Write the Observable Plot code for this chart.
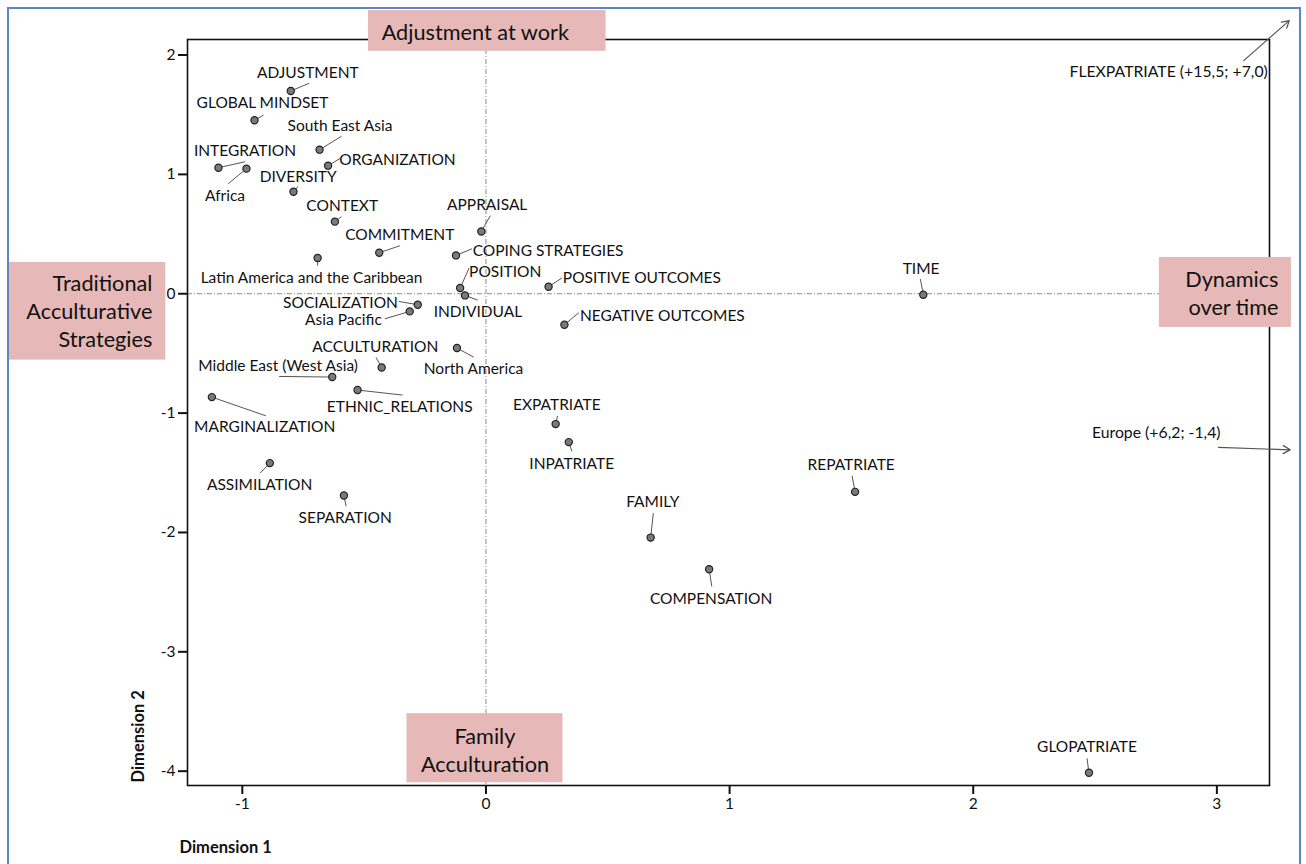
<!DOCTYPE html>
<html>
<head>
<meta charset="utf-8">
<script src="https://cdn.jsdelivr.net/npm/d3@7"></script>
<script src="https://cdn.jsdelivr.net/npm/@observablehq/plot@0.6"></script>
<style>
  html, body { margin: 0; padding: 0; background: #fff; }
  #wrap { position: relative; width: 1306px; height: 864px; overflow: hidden; }
  #border { position: absolute; left: 7px; top: 7px; width: 1290px; height: 900px;
            border: 2px solid #5b87c4; pointer-events: none; }
</style>
</head>
<body>
<div id="wrap"><div id="chart"></div><div id="border"></div></div>
<script>
// ---- Data ----
const names = ["ADJUSTMENT","GLOBAL MINDSET","South East Asia","INTEGRATION","Africa","ORGANIZATION",
  "DIVERSITY","CONTEXT","APPRAISAL","COMMITMENT","COPING STRATEGIES","Latin America and the Caribbean",
  "POSITION","POSITIVE OUTCOMES","INDIVIDUAL","NEGATIVE OUTCOMES","TIME","SOCIALIZATION","Asia Pacific",
  "ACCULTURATION","North America","Middle East (West Asia)","ETHNIC_RELATIONS","MARGINALIZATION",
  "EXPATRIATE","INPATRIATE","ASSIMILATION","SEPARATION","REPATRIATE","FAMILY","COMPENSATION","GLOPATRIATE"];
const dim1 = [-0.801,-0.950,-0.683,-1.098,-0.983,-0.648,-0.790,-0.620,-0.019,-0.438,-0.123,-0.691,
  -0.106,0.257,-0.086,0.322,1.795,-0.280,-0.313,-0.428,-0.119,-0.631,-0.527,-1.125,
  0.286,0.340,-0.887,-0.583,1.515,0.676,0.916,2.475];
const dim2 = [1.699,1.453,1.207,1.056,1.048,1.073,0.855,0.604,0.522,0.344,0.321,0.299,
  0.048,0.059,-0.014,-0.260,-0.008,-0.092,-0.148,-0.618,-0.455,-0.698,-0.807,-0.866,
  -1.092,-1.243,-1.419,-1.691,-1.660,-2.043,-2.308,-4.013];
// label centre positions (in dimension units)
const labelDim1 = [-0.731,-0.917,-0.599,-0.989,-1.071,-0.363,-0.771,-0.590,0.005,-0.354,0.255,-0.716,
  0.079,0.640,-0.033,0.724,1.786,-0.597,-0.585,-0.454,-0.051,-0.853,-0.354,-0.908,
  0.291,0.352,-0.929,-0.578,1.499,0.685,0.924,2.467];
const labelDim2 = [1.852,1.601,1.406,1.196,0.821,1.117,0.975,0.733,0.742,0.490,0.358,0.132,
  0.183,0.134,-0.152,-0.187,0.207,-0.075,-0.224,-0.447,-0.631,-0.604,-0.953,-1.117,
  -0.935,-1.425,-1.605,-1.878,-1.433,-1.746,-2.555,-3.800];
// leader line ends (in dimension units)
const leaderDim1 = [-0.726,-0.913,-0.593,-0.988,-1.058,-0.598,-0.771,-0.593,0.018,-0.353,-0.057,-0.691,
  -0.069,0.312,-0.034,0.381,1.783,-0.357,-0.415,-0.451,-0.051,-0.849,-0.342,-0.903,
  0.294,0.353,-0.927,-0.574,1.503,0.687,0.927,2.467];
const leaderDim2 = [1.763,1.497,1.319,1.106,0.922,1.134,0.899,0.645,0.654,0.402,0.377,0.235,
  0.215,0.132,-0.053,-0.159,0.123,-0.065,-0.210,-0.534,-0.531,-0.693,-0.849,-1.023,
  -1.023,-1.322,-1.503,-1.780,-1.526,-1.838,-2.453,-3.892];

// off-scale points shown as arrows
const outNames = ["FLEXPATRIATE (+15,5; +7,0)", "Europe (+6,2; -1,4)"];
const outFrom1 = [3.110, 3.007];
const outFrom2 = [1.953, -1.288];
const outTo1 = [3.297, 3.301];
const outTo2 = [2.288, -1.308];
const outLabel1 = [3.209, 2.487];
const outLabel2 = [1.855, -1.169];
const outAnchor = ["end", "start"];

// quadrant annotation boxes
const boxTexts = ["Adjustment at work", "Traditional\nAcculturative\nStrategies", "Dynamics\nover time", "Family\nAcculturation"];
const boxX1 = [-0.482, -1.958, 2.764, -0.324];
const boxX2 = [0.493, -1.314, 3.306, 0.316];
const boxY1 = [2.372, 0.262, 0.304, -3.518];
const boxY2 = [2.031, -0.556, -0.282, -4.097];
const boxTextX = [-0.428, -1.369, 3.253, -0.004];
const boxTextY = [2.204, -0.135, 0.015, -3.814];
const boxAnchor = ["start", "end", "end", "middle"];

const xTicks = [-1, 0, 1, 2, 3];
const yTicks = [-4, -3, -2, -1, 0, 1, 2];

// ---- Tables ----
const pts = names.map((n, i) => ({name: n, d1: dim1[i], d2: dim2[i], lx: labelDim1[i], ly: labelDim2[i], ex: leaderDim1[i], ey: leaderDim2[i]}));
const outs = outNames.map((n, i) => ({name: n, x1: outFrom1[i], y1: outFrom2[i], x2: outTo1[i], y2: outTo2[i], lx: outLabel1[i], ly: outLabel2[i], anchor: outAnchor[i]}));
const boxes = boxTexts.map((t, i) => ({text: t, x1: boxX1[i], x2: boxX2[i], y1: boxY1[i], y2: boxY2[i], tx: boxTextX[i], ty: boxTextY[i], anchor: boxAnchor[i]}));

const FONT = "Lato, 'Open Sans', sans-serif";
const dash = "5,2,1,2";
const INK = "#111";

const boxText = (anchor) => Plot.text(boxes.filter(d => d.anchor === anchor),
  {x: "tx", y: "ty", text: "text", textAnchor: anchor, fontSize: 21.7, lineHeight: 1.3, fill: INK});
const outText = (anchor) => Plot.text(outs.filter(d => d.anchor === anchor),
  {x: "lx", y: "ly", text: "name", textAnchor: anchor, fontSize: 15.8, fill: INK});

const chart = Plot.plot({
  width: 1306,
  height: 864,
  marginLeft: 187,
  marginRight: 37,
  marginTop: 39,
  marginBottom: 79,
  x: {domain: [-1.225, 3.216]},
  y: {domain: [-4.12, 2.13]},
  style: {fontFamily: FONT, background: "#fff", overflow: "visible"},
  marks: [
    Plot.ruleX([0], {stroke: "#8c8c8c", strokeWidth: 1, strokeDasharray: dash}),
    Plot.ruleY([0], {stroke: "#8c8c8c", strokeWidth: 1, strokeDasharray: dash}),
    Plot.frame({stroke: INK, strokeWidth: 1.6}),
    Plot.axisX({ticks: xTicks, tickFormat: d => String(d), tickSize: 9, tickPadding: 3, fontSize: 15.5, strokeWidth: 2, stroke: INK, color: INK, label: null}),
    Plot.axisY({ticks: yTicks, tickFormat: d => String(d), tickSize: 9, tickPadding: 3, fontSize: 15.5, strokeWidth: 2, stroke: INK, color: INK, label: null}),
    Plot.rect(boxes, {x1: "x1", x2: "x2", y1: "y1", y2: "y2", fill: "#e6b8b7"}),
    boxText("start"),
    boxText("end"),
    boxText("middle"),
    Plot.link(pts, {x1: "d1", y1: "d2", x2: "ex", y2: "ey", stroke: "#555", strokeWidth: 1}),
    Plot.dot(pts, {x: "d1", y: "d2", r: 3.6, fill: "#7a7a7a", stroke: "#222", strokeWidth: 1.2}),
    Plot.text(pts, {x: "lx", y: "ly", text: "name", fontSize: 15.5, fill: INK}),
    Plot.arrow(outs, {x1: "x1", y1: "y1", x2: "x2", y2: "y2", stroke: "#555", strokeWidth: 1.2, headLength: 10}),
    outText("start"),
    outText("end"),
    Plot.text(["Dimension 1"], {frameAnchor: "bottom-left", dx: -8, dy: 67, textAnchor: "start", fontWeight: "bold", fontSize: 16.5, fill: INK}),
    Plot.text(["Dimension 2"], {frameAnchor: "bottom-left", dx: -44, dy: -3, rotate: -90, textAnchor: "start", fontWeight: "bold", fontSize: 16.5, fill: INK})
  ]
});
document.getElementById("chart").appendChild(chart);
</script>
</body>
</html>
